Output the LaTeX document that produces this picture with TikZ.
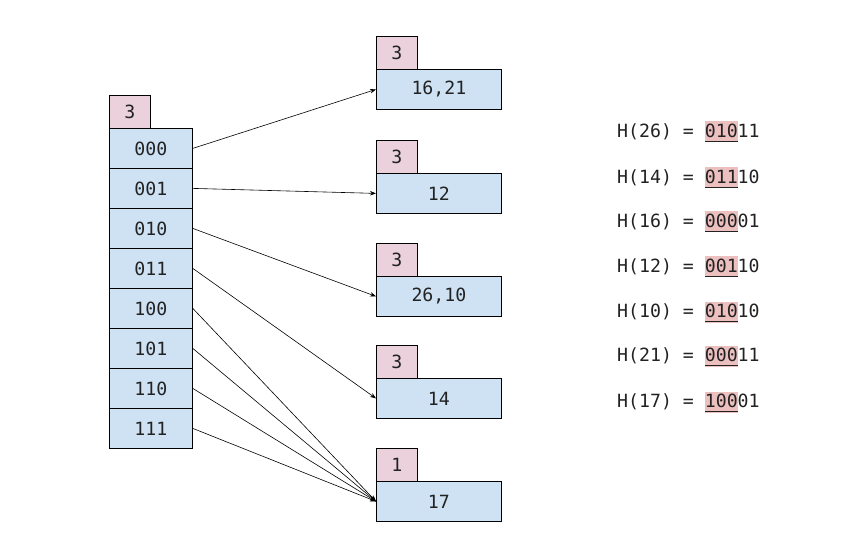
\documentclass[tikz,border=0pt]{standalone}
\usepackage{fontspec}
\setmonofont{DejaVu Sans Mono}
\usetikzlibrary{arrows.meta}
\definecolor{cellblue}{HTML}{CFE2F3}
\definecolor{tagpink}{HTML}{EAD1DC}
\definecolor{hlpink}{HTML}{EDC0C0}
\definecolor{inkgray}{HTML}{222222}
\newcommand{\hlbits}[1]{{\setlength{\fboxsep}{0pt}\sbox0{#1}\colorbox{hlpink}{\rule[-5pt]{0pt}{21pt}\rlap{\rule[-4.8pt]{\wd0}{1.4pt}}\usebox0}}}
\begin{document}
\begin{tikzpicture}[x=1pt,y=-1pt,
  every node/.style={font=\ttfamily\fontsize{18.2}{20}\selectfont, text=inkgray},
  cell/.style={draw=black, line width=0.8pt, fill=cellblue, inner sep=0pt, minimum width=83pt, minimum height=40pt, anchor=north west},
  tag/.style={draw=black, line width=0.8pt, fill=tagpink, inner sep=0pt, minimum width=41pt, minimum height=33pt, anchor=north west},
  bucket/.style={draw=black, line width=0.8pt, fill=cellblue, inner sep=0pt, minimum width=125pt, minimum height=40pt, anchor=north west},
  hashtxt/.style={anchor=base west, inner sep=0pt},
  ptr/.style={line width=0.6pt, -{Stealth[length=6pt,width=4.5pt]}}]
\useasboundingbox (0,0) rectangle (868,559);
% directory
\node[tag] (dhead) at (109,95) {3};
\node[cell] (d000) at (109,128) {000};
\node[cell] (d001) at (109,168) {001};
\node[cell] (d010) at (109,208) {010};
\node[cell] (d011) at (109,248) {011};
\node[cell] (d100) at (109,288) {100};
\node[cell] (d101) at (109,328) {101};
\node[cell] (d110) at (109,368) {110};
\node[cell] (d111) at (109,408) {111};
% buckets
\node[tag] (b1h) at (376,36) {3};
\node[bucket] (b1) at (376,69) {16,21};
\node[tag] (b2h) at (376,140) {3};
\node[bucket] (b2) at (376,173) {12};
\node[tag] (b3h) at (376,243) {3};
\node[bucket] (b3) at (376,276) {26,10};
\node[tag] (b4h) at (376,345) {3};
\node[bucket] (b4) at (376,378) {14};
\node[tag] (b5h) at (376,448) {1};
\node[bucket] (b5) at (376,481) {17};
% pointers
\draw[ptr] (d000.east) -- (b1.west);
\draw[ptr] (d001.east) -- (b2.west);
\draw[ptr] (d010.east) -- (b3.west);
\draw[ptr] (d011.east) -- (b4.west);
\draw[ptr] (d100.east) -- (b5.west);
\draw[ptr] (d101.east) -- (b5.west);
\draw[ptr] (d110.east) -- (b5.west);
\draw[ptr] (d111.east) -- (b5.west);
% hashes
\node[hashtxt] (h26) at (617,137.5) {H(26) = \hlbits{010}11};
\node[hashtxt] (h14) at (617,183.5) {H(14) = \hlbits{011}10};
\node[hashtxt] (h16) at (617,227.5) {H(16) = \hlbits{000}01};
\node[hashtxt] (h12) at (617,272.5) {H(12) = \hlbits{001}10};
\node[hashtxt] (h10) at (617,317.5) {H(10) = \hlbits{010}10};
\node[hashtxt] (h21) at (617,361.5) {H(21) = \hlbits{000}11};
\node[hashtxt] (h17) at (617,407.5) {H(17) = \hlbits{100}01};
\end{tikzpicture}
\end{document}
